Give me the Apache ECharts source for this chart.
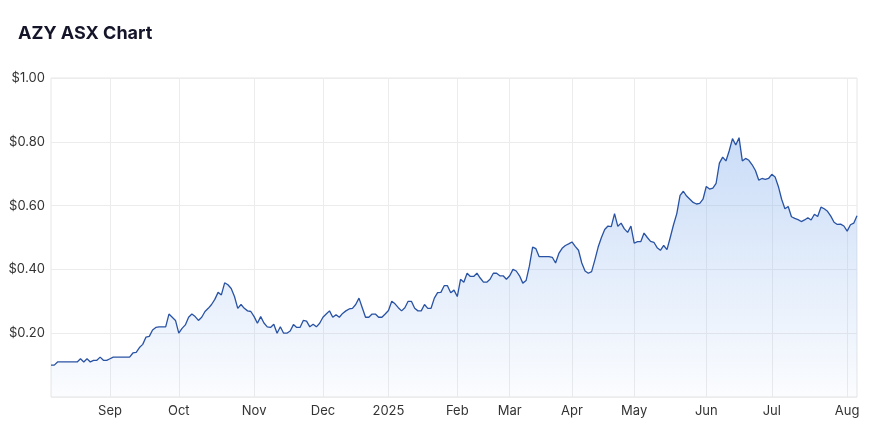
<!DOCTYPE html>
<html>
<head>
<meta charset="utf-8">
<script src="https://cdn.jsdelivr.net/npm/echarts@6/dist/echarts.min.js"></script>
<style>
html,body{margin:0;padding:0;background:#fff;}
#chart{width:880px;height:425px;}
</style>
</head>
<body>
<div id="chart"></div>
<script>
// Daily closing prices (AUD), one value per trading day, grouped by month
const monthLabels = ['', 'Sep', 'Oct', 'Nov', 'Dec', '2025', 'Feb', 'Mar', 'Apr', 'May', 'Jun', 'Jul', 'Aug'];
const aug24 = [0.100,0.100,0.110,0.110,0.110,0.110,0.110,0.110,0.110,0.120,0.110,0.120,0.110,0.115,0.115,0.125,0.115,0.115];
const sep24 = [0.120,0.125,0.125,0.125,0.125,0.125,0.125,0.138,0.140,0.155,0.165,0.188,0.190,0.210,0.218,0.220,0.220,0.220,0.260,0.250,0.240];
const oct24 = [0.200,0.215,0.226,0.250,0.260,0.252,0.240,0.250,0.268,0.278,0.290,0.306,0.328,0.320,0.358,0.352,0.340,0.315,0.278,0.290,0.278,0.270,0.268];
const nov24 = [0.252,0.231,0.252,0.232,0.220,0.218,0.228,0.200,0.220,0.200,0.200,0.207,0.227,0.218,0.218,0.240,0.238,0.220,0.228,0.220,0.231];
const dec24 = [0.250,0.260,0.270,0.250,0.258,0.250,0.262,0.270,0.276,0.278,0.290,0.310,0.280,0.250,0.250,0.260,0.260,0.250,0.250,0.260];
const jan25 = [0.271,0.300,0.292,0.280,0.270,0.280,0.300,0.300,0.278,0.270,0.270,0.290,0.278,0.278,0.310,0.327,0.328,0.349,0.349,0.327,0.335];
const feb25 = [0.315,0.369,0.360,0.388,0.378,0.378,0.388,0.373,0.360,0.360,0.369,0.388,0.388,0.380,0.380,0.369];
const mar25 = [0.380,0.400,0.395,0.380,0.357,0.365,0.410,0.470,0.465,0.440,0.440,0.440,0.440,0.438,0.420,0.450,0.466,0.475,0.480];
const apr25 = [0.486,0.472,0.460,0.420,0.395,0.388,0.393,0.430,0.470,0.500,0.525,0.536,0.534,0.575,0.535,0.545,0.527,0.516,0.536];
const may25 = [0.482,0.487,0.487,0.514,0.500,0.488,0.485,0.468,0.460,0.475,0.462,0.500,0.540,0.575,0.632,0.645,0.630,0.620,0.610,0.605,0.607,0.620];
const jun25 = [0.660,0.652,0.655,0.670,0.733,0.752,0.740,0.772,0.810,0.790,0.813,0.740,0.748,0.742,0.728,0.710,0.680,0.685,0.682,0.685];
const jul25 = [0.698,0.690,0.660,0.620,0.590,0.597,0.565,0.560,0.556,0.550,0.555,0.562,0.555,0.573,0.566,0.595,0.590,0.582,0.567,0.548,0.541,0.542,0.536];
const aug25 = [0.520,0.540,0.545,0.568];
const months = [aug24, sep24, oct24, nov24, dec24, jan25, feb25, mar25, apr25, may25, jun25, jul25, aug25];
const yTicks = [0, 0.2, 0.4, 0.6, 0.8, 1.0];

// Build category list (trading days) and mark month starts
const categories = [];
const prices = [];
const monthStart = {};
months.forEach((arr, m) => {
  arr.forEach((v, d) => {
    if (d === 0 && m > 0) monthStart[categories.length] = monthLabels[m];
    categories.push(m + '-' + d);
    prices.push(v);
  });
});

const chart = echarts.init(document.getElementById('chart'), null, {renderer: 'canvas'});
const isStart = (i) => monthStart[i] !== undefined;
chart.setOption({
  animation: false,
  backgroundColor: '#ffffff',
  title: {
    text: 'AZY ASX Chart',
    left: 18,
    top: 25,
    padding: 0,
    textStyle: {fontFamily: 'Inter', fontSize: 18, fontWeight: 700, color: '#15152a'}
  },
  grid: {left: 51, right: 23, top: 78, bottom: 28, show: true, borderColor: '#e6e6e6', borderWidth: 1},
  xAxis: {
    type: 'category',
    data: categories,
    boundaryGap: false,
    axisLine: {show: false},
    axisTick: {show: false},
    axisLabel: {
      interval: (i) => isStart(i),
      formatter: (v, i) => monthStart[i] || '',
      fontFamily: 'Inter', fontSize: 13, color: '#333', margin: 8
    },
    splitLine: {show: true, interval: (i) => isStart(i), lineStyle: {color: '#ececec', width: 1}}
  },
  yAxis: {
    type: 'value',
    min: yTicks[0],
    max: yTicks[yTicks.length - 1],
    interval: 0.2,
    axisLine: {show: false},
    axisTick: {show: false},
    axisLabel: {
      formatter: (v) => v === 0 ? '' : '$' + v.toFixed(2),
      fontFamily: 'Inter', fontSize: 13, color: '#333', margin: 6
    },
    splitLine: {show: true, lineStyle: {color: '#ececec', width: 1}}
  },
  series: [{
    type: 'line',
    data: prices,
    symbol: 'none',
    lineStyle: {color: '#2852a3', width: 1.3},
    areaStyle: {
      color: new echarts.graphic.LinearGradient(0, 0, 0, 1, [
        {offset: 0, color: 'rgba(140,180,238,0.66)'},
        {offset: 1, color: 'rgba(140,180,238,0.05)'}
      ])
    }
  }]
});
</script>
</body>
</html>
